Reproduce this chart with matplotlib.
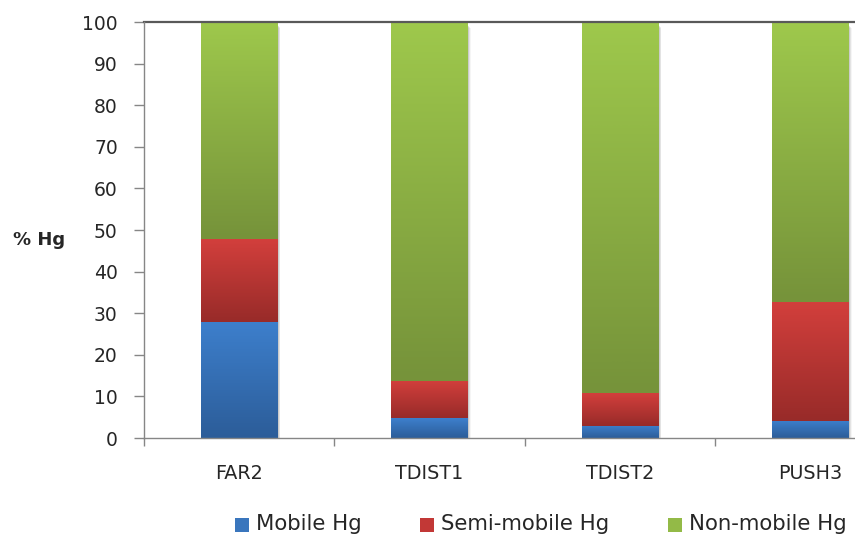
import numpy as np
import matplotlib
matplotlib.use("Agg")
import matplotlib.pyplot as plt
from matplotlib.patches import Rectangle
from matplotlib.colors import LinearSegmentedColormap

plt.rcParams['font.family'] = ['DejaVu Sans']

sites = ['FAR2', 'TDIST1', 'TDIST2', 'PUSH3']
mobile = [28.0, 4.8, 3.0, 4.2]
semi_mobile = [19.8, 8.9, 7.7, 28.6]
non_mobile = [52.2, 86.3, 89.3, 67.2]
series_names = ['Mobile Hg', 'Semi-mobile Hg', 'Non-mobile Hg']

# (top colour, bottom colour) of each segment's vertical gradient
blue = ('#3d7fcc', '#2c5d99')
red = ('#d23f3c', '#982b29')
green = ('#9ec84c', '#76933a')
legend_colors = ['#3a76bd', '#c23836', '#93ba47']

axis_grey = '#868686'
text_col = '#262626'

fig = plt.figure(figsize=(8.55, 5.43), dpi=100)
W, H = 855, 543
# plot area runs past the right edge of the figure
x0, x1 = 143.5, 905.5
y0, y1 = 438, 22
ax = fig.add_axes([x0 / W, 1 - y0 / H, (x1 - x0) / W, (y0 - y1) / H])

xs = np.arange(len(sites))
width = 0.4
bottoms = np.zeros(len(sites))
grad = np.linspace(0, 1, 64).reshape(-1, 1)

for vals, (top, bot) in zip([mobile, semi_mobile, non_mobile], [blue, red, green]):
    cmap = LinearSegmentedColormap.from_list('seg', [bot, top])
    bars = ax.bar(xs, vals, width, bottom=bottoms, color='none', linewidth=0, zorder=3)
    for b in bars:
        bx, by = b.get_x(), b.get_y()
        bw, bh = b.get_width(), b.get_height()
        im = ax.imshow(grad, cmap=cmap, origin='lower', aspect='auto',
                       extent=(bx, bx + bw, by, by + bh), zorder=3,
                       interpolation='bilinear')
        im.set_clip_path(b)
    bottoms += np.array(vals)

# soft drop shadow behind each bar
for x in xs:
    for k, a in enumerate([0.10, 0.07, 0.04]):
        d = 0.004 * (k + 1)
        ax.add_patch(Rectangle((x - width / 2 + 0.006, -1.2 - k * 0.25),
                               width + d, 100 + 0.2, facecolor='black',
                               alpha=a, linewidth=0, zorder=2))
ax.set_xlim(-0.5, len(sites) - 0.5)
ax.set_ylim(0, 100)

ax.axhline(100, color='#595959', linewidth=1.6, zorder=4, clip_on=False)

for s in ['top', 'right']:
    ax.spines[s].set_visible(False)
for s in ['left', 'bottom']:
    ax.spines[s].set_color(axis_grey)
    ax.spines[s].set_linewidth(1.0)
    ax.spines[s].set_zorder(5)

ax.set_yticks(np.arange(0, 101, 10))
ax.tick_params(axis='y', direction='out', length=7.5, width=1, color=axis_grey,
               pad=11, labelsize=13.5, labelcolor=text_col)
ax.set_xticks(xs)
ax.set_xticklabels(sites)
ax.set_xticks(np.arange(-0.5, len(sites), 1), minor=True)
ax.tick_params(axis='x', which='major', length=0, pad=19, labelsize=13.8,
               labelcolor=text_col)
ax.tick_params(axis='x', which='minor', direction='out', length=6, width=1,
               color=axis_grey)

fig.text(13 / W, 1 - 240 / H, '% Hg', fontsize=13, fontweight='bold',
         color=text_col, va='center', ha='left')

# legend along the bottom
leg_y = 1 - 524.5 / H
for xpos, name, c in zip([235, 420, 668], series_names, legend_colors):
    fig.patches.append(Rectangle((xpos / W, leg_y - 7 / H), 14 / W, 14 / H,
                                 facecolor=c, edgecolor='none',
                                 transform=fig.transFigure))
    fig.text((xpos + 21) / W, leg_y, name, fontsize=15.3, color=text_col,
             va='center', ha='left')

fig.savefig('out.png', dpi=100)
